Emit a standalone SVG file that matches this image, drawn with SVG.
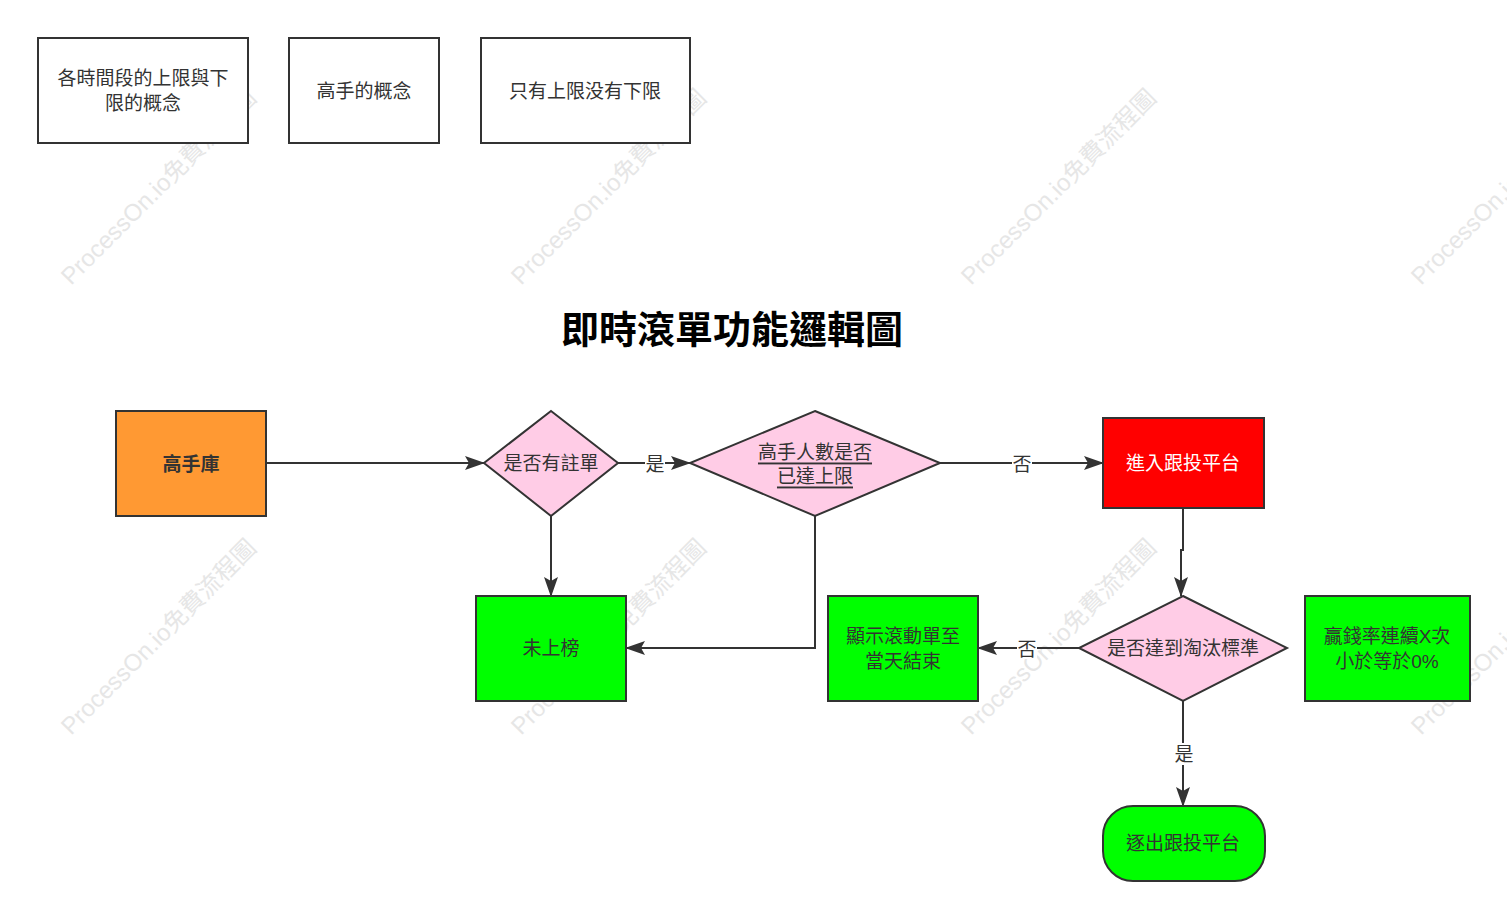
<svg xmlns="http://www.w3.org/2000/svg" width="1507" height="918" viewBox="0 0 1507 918">
<style>
text{font-family:"Liberation Sans","Noto Sans CJK TC",sans-serif;font-size:19px;fill:#333;text-anchor:middle;dominant-baseline:central}
.box{fill:#fff;stroke:#333;stroke-width:2}
.n{stroke:#333;stroke-width:2}
.d{fill:#FFCCE6;stroke:#333;stroke-width:2}
.g{fill:#00FF00;stroke:#333;stroke-width:2}
.c{fill:none;stroke:#333;stroke-width:2;marker-end:url(#a)}
.wm{font-size:24px;fill:#e6e6e6;text-anchor:start}
.lbl{fill:#fff}
</style>
<defs><marker id="a" markerWidth="20" markerHeight="14" refX="19" refY="7" orient="auto" markerUnits="userSpaceOnUse"><path d="M0,0 L20,7 L0,14 L4,7Z" fill="#333"/></marker></defs>
<rect width="1507" height="918" fill="#fff"/>
<g id="watermarks">
<text class="wm" transform="translate(65,280) rotate(-45)">ProcessOn.io免費流程圖</text>
<text class="wm" transform="translate(515,280) rotate(-45)">ProcessOn.io免費流程圖</text>
<text class="wm" transform="translate(965,280) rotate(-45)">ProcessOn.io免費流程圖</text>
<text class="wm" transform="translate(1415,280) rotate(-45)">ProcessOn.io免費流程圖</text>
<text class="wm" transform="translate(65,730) rotate(-45)">ProcessOn.io免費流程圖</text>
<text class="wm" transform="translate(515,730) rotate(-45)">ProcessOn.io免費流程圖</text>
<text class="wm" transform="translate(965,730) rotate(-45)">ProcessOn.io免費流程圖</text>
<text class="wm" transform="translate(1415,730) rotate(-45)">ProcessOn.io免費流程圖</text>
</g>
<g id="note1"><rect class="box" x="38" y="38" width="210" height="105"/><text x="143" y="78">各時間段的上限與下</text><text x="143" y="103">限的概念</text></g>
<g id="note2"><rect class="box" x="289" y="38" width="150" height="105"/><text x="364" y="91">高手的概念</text></g>
<g id="note3"><rect class="box" x="481" y="38" width="209" height="105"/><text x="585" y="91">只有上限没有下限</text></g>
<g id="title"><text x="732" y="330" style="font-size:38px;font-weight:bold;fill:#000">即時滾單功能邏輯圖</text></g>
<g id="connectors">
<path class="c" d="M266,463 H484"/>
<path class="c" d="M618,463 H690"/>
<path class="c" d="M940,463 H1103"/>
<path class="c" d="M551,516 V596"/>
<path class="c" d="M815,516 V648 H626"/>
<path class="c" d="M1183,508 V550 H1181 V596"/>
<path class="c" d="M1079,648 H978"/>
<path class="c" d="M1183,701 V806"/>
<rect class="lbl" x="645" y="452" width="20" height="22"/><text x="655" y="464">是</text>
<rect class="lbl" x="1012" y="452" width="20" height="22"/><text x="1022" y="464">否</text>
<rect class="lbl" x="1017" y="637" width="20" height="22"/><text x="1027" y="649">否</text>
<rect class="lbl" x="1174" y="743" width="20" height="22"/><text x="1184" y="754">是</text>
</g>
<g id="master"><rect class="n" x="116" y="411" width="150" height="105" fill="#FF9933"/><text x="191" y="464" style="font-weight:bold">高手庫</text></g>
<g id="registered"><polygon class="d" points="551,411 618,463 551,516 484,463"/><text x="551" y="463">是否有註單</text></g>
<g id="limit"><polygon class="d" points="815,411 940,463 815,516 690,463"/><text x="815" y="452" style="text-decoration:underline">高手人數是否</text><text x="815" y="476" style="text-decoration:underline">已達上限</text></g>
<g id="enter"><rect class="n" x="1103" y="418" width="161" height="90" fill="#FF0000"/><text x="1183" y="463" style="fill:#fff">進入跟投平台</text></g>
<g id="unlisted"><rect class="g" x="476" y="596" width="150" height="105"/><text x="551" y="648">未上榜</text></g>
<g id="show"><rect class="g" x="828" y="596" width="150" height="105"/><text x="903" y="636">顯示滾動單至</text><text x="903" y="661">當天結束</text></g>
<g id="eliminate"><polygon class="d" points="1183,596 1287,648 1183,701 1079,648"/><text x="1183" y="648">是否達到淘汰標準</text></g>
<g id="winrate"><rect class="g" x="1305" y="596" width="165" height="105"/><text x="1387" y="636">贏錢率連續X次</text><text x="1387" y="661">小於等於0%</text></g>
<g id="exit"><rect class="g" x="1103" y="806" width="162" height="75" rx="30"/><text x="1183" y="843">逐出跟投平台</text></g>
</svg>
